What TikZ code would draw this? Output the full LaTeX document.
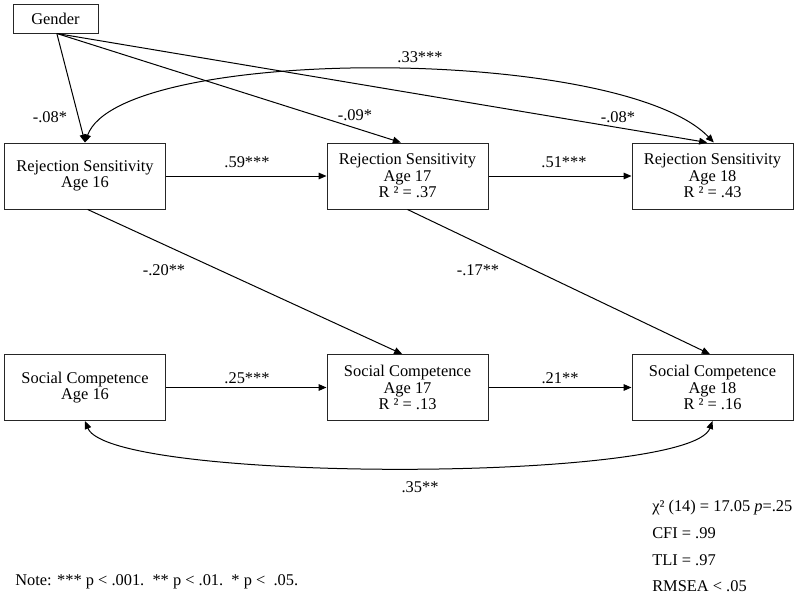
\documentclass[tikz,border=0pt]{standalone}
\usepackage{fontspec}
\setmainfont{Liberation Serif}
\usetikzlibrary{arrows.meta}
\begin{document}
\begin{tikzpicture}[x=0.75pt,y=-0.75pt,
  box/.style={draw=black!85,line width=0.75pt,minimum width=120.75pt,minimum height=49.5pt,align=center,font=\fontsize{12.3}{12.4}\selectfont,inner sep=0pt},
  gbox/.style={draw=black!85,line width=0.75pt,minimum width=63.75pt,minimum height=21.75pt,font=\fontsize{12.3}{12.4}\selectfont,inner sep=0pt},
  lbl/.style={font=\fontsize{12.3}{12.4}\selectfont,inner sep=0pt},
  arr/.style={line width=0.75pt,-{Triangle[length=6pt,width=5pt]}},
  dbl/.style={line width=0.75pt,{Triangle[length=6pt,width=5pt]}-{Triangle[length=6pt,width=5pt]}}]
\useasboundingbox (0,0) rectangle (800,596);
% nodes
\node[gbox] (G) at (55.5,18.5) {Gender};
\node[box] (RS16) at (85,176) {Rejection Sensitivity\\Age 16};
\node[box] (RS17) at (407.5,176) {Rejection Sensitivity\\Age 17\\R ² = .37};
\node[box] (RS18) at (712.5,176) {Rejection Sensitivity\\Age 18\\R ² = .43};
\node[box] (SC16) at (85,387.5) {Social Competence\\Age 16};
\node[box] (SC17) at (407.5,387.5) {Social Competence\\Age 17\\R ² = .13};
\node[box] (SC18) at (712.5,387.5) {Social Competence\\Age 18\\R ² = .16};
% gender paths
\draw[arr] ([xshift=1pt]G.south) -- (RS16.north);
\draw[arr] ([xshift=1pt]G.south) -- ([xshift=-5pt]RS17.north);
\draw[arr] ([xshift=1pt]G.south) -- ([xshift=-4pt]RS18.north);
% correlations
\draw[dbl] (RS16.north) .. controls (120,45) and (620,45) .. ([xshift=1pt]RS18.north);
\draw[dbl] (SC16.south) .. controls (110,483) and (690,483) .. (SC18.south);
% horizontal
\draw[arr] (RS16.east) -- (RS17.west);
\draw[arr] (RS17.east) -- (RS18.west);
\draw[arr] (SC16.east) -- (SC17.west);
\draw[arr] (SC17.east) -- (SC18.west);
% cross
\draw[arr] ([xshift=2pt]RS16.south) -- ([xshift=-4pt]SC17.north);
\draw[arr] (RS17.south) -- ([xshift=-2pt]SC18.north);
% labels
\node[lbl] (l1) at (50,117) {-.08*};
\node[lbl] (l2) at (355,115) {-.09*};
\node[lbl] (l3) at (618,117) {-.08*};
\node[lbl] (l4) at (420,57) {.33***};
\node[lbl] (l5) at (247,162) {.59***};
\node[lbl] (l6) at (564,162) {.51***};
\node[lbl] (l7) at (164,270) {-.20**};
\node[lbl] (l8) at (478,270) {-.17**};
\node[lbl] (l9) at (247,378) {.25***};
\node[lbl] (l10) at (560,378) {.21**};
\node[lbl] (l11) at (420,487) {.35**};
% fit stats
\node[lbl,anchor=west] (f1) at (652,508) {χ² (14) = 17.05 \textit{p}=.25};
\node[lbl,anchor=west] (f2) at (652,533) {CFI = .99};
\node[lbl,anchor=west] (f3) at (652,560) {TLI = .97};
\node[lbl,anchor=west] (f4) at (652,586) {RMSEA < .05};
\node[lbl,anchor=west] (note) at (15,582) {Note: *** p < .001.\ \ ** p < .01.\ \ * p <\ \ .05.};
\end{tikzpicture}
\end{document}
